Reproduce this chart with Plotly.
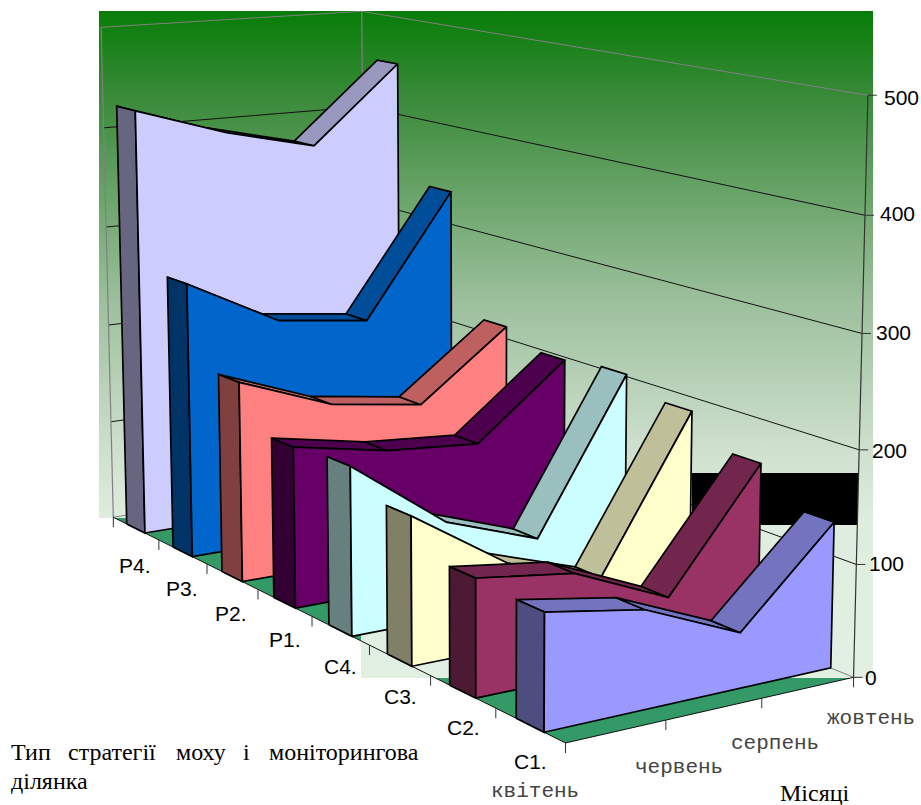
import numpy as np
import plotly.graph_objects as go

# Moss strategy types and monitoring plots, front of the chart to the back
series_names = ["C1.", "C2.", "C3.", "C4.", "P1.", "P2.", "P3.", "P4."]
months = ["квітень", "червень", "серпень", "жовтень"]
value_ticks = [0, 100, 200, 300, 400, 500]

c1 = [101, 86, 49, 130]
c2 = [104, 92, 54, 160]
c3 = [134, 76, 47, 187]
c4 = [156, 90, 59, 202]
p1 = [152, 135, 128, 197]
p2 = [193, 159, 146, 212]
p3 = [270, 223, 212, 333]
p4 = [425, 396, 375, 452]
all_series = [c1, c2, c3, c4, p1, p2, p3, p4]

# face, top strip, end cap
palette = [
    ("#9999FF", "#7373BF", "#4D4D80"),
    ("#993366", "#73264D", "#4D1A33"),
    ("#FFFFCC", "#BFBF99", "#808066"),
    ("#CCFFFF", "#99BFBF", "#668080"),
    ("#660066", "#4D004D", "#330033"),
    ("#FF8080", "#BF6060", "#804040"),
    ("#0066CC", "#004D99", "#003366"),
    ("#CCCCFF", "#9999BF", "#666680"),
]
FLOOR = "#339966"
GREY = "#808080"
INK = "#000000"

# Camera calibration: chart-box coordinates (month, series, value) against canvas pixels
calibration = [
    (0, 0, 0, 566, 742), (1, 0, 0, 665, 723), (2, 0, 0, 761, 702), (3, 0, 0, 853, 677),
    (0, 8, 0, 113, 517), (0, 7, 0, 158, 539), (0, 6, 0, 207, 564), (0, 5, 0, 258, 589),
    (0, 4, 0, 313, 616), (0, 3, 0, 370, 645), (0, 2, 0, 432, 675), (0, 1, 0, 496, 707),
    (0, 8, 500, 100, 27), (3, 8, 500, 362, 11), (3, 0, 500, 868, 97),
    (0, 8, 400, 104, 129), (0, 8, 300, 106, 227), (0, 8, 200, 108, 326),
    (3, 0, 400, 865, 213), (3, 0, 300, 862, 332), (3, 0, 200, 859, 450), (3, 0, 100, 856, 563),
    (3, 8, 400, 363, 107), (3, 8, 300, 364, 201),
]


def fit_camera(points):
    rows = []
    for x, y, z, u, v in points:
        p = [x / 3, y / 8, z / 500, 1]
        u, v = u / 1000, v / 1000
        rows.append(p + [0, 0, 0, 0] + [-u * c for c in p])
        rows.append([0, 0, 0, 0] + p + [-v * c for c in p])
    return np.linalg.svd(np.array(rows))[2][-1].reshape(3, 4)


CAMERA = fit_camera(calibration)


def project(month, band, value):
    """Perspective projection of a chart-box point to canvas pixels."""
    h = CAMERA @ np.array([month / 3, band / 8, value / 500, 1])
    return 1000 * h[0] / h[2], 1000 * h[1] / h[2]


fig = go.Figure()


def polygon(points, fill=None, line=INK, width=1.7, **extra):
    xs = [p[0] for p in points]
    ys = [p[1] for p in points]
    kw = dict(mode="lines", hoverinfo="skip", showlegend=False,
              line=dict(color=line or "rgba(0,0,0,0)", width=width if line else 0))
    if fill or extra:
        kw["fill"] = "toself"
    if fill:
        kw["fillcolor"] = fill
    kw.update(extra)
    fig.add_trace(go.Scatter(x=xs + xs[:1], y=ys + ys[:1], **kw))


def segment(a, b, color=INK, width=1.0):
    fig.add_trace(go.Scatter(x=[a[0], b[0]], y=[a[1], b[1]], mode="lines", hoverinfo="skip",
                             showlegend=False, line=dict(color=color, width=width)))


# Floor
polygon([project(0, 0, 0), project(3, 0, 0), project(3, 8, 0), project(0, 8, 0)], fill=FLOOR, line=None)

# Wall backdrop with the vertical green fade, dark at the top
polygon([(99, 11), (873, 11), (873, 678), (361, 678), (361, 518), (99, 518)], line=None,
        fillgradient=dict(type="vertical",
                          colorscale=[[0, "#E1F0E1"], [0.24, "#DEEDDE"], [0.34, "#CFE0CF"],
                                      [0.57, "#9BBF9B"], [0.87, "#3A8A3A"], [1, "#077D07"]]))
polygon([(692, 473), (858, 473), (858, 525), (692, 525)], fill="#000000", line=None)

# Wall gridlines and box edges
for v in value_ticks:
    color = GREY if v in (0, 500) else "#111111"
    segment(project(0, 8, v), project(3, 8, v), color, 1.0)
    segment(project(3, 8, v), project(3, 0, v), color, 1.0)
segment(project(0, 8, 0), project(0, 8, 500), GREY, 1.2)
segment(project(3, 8, 0), project(3, 8, 500), GREY, 1.2)
segment(project(3, 0, 0), project(3, 0, 500), "#333333", 1.2)

# Floor edges and tick marks
segment(project(0, 0, 0), project(3, 0, 0), "#111111", 1.0)
segment(project(0, 0, 0), project(0, 8, 0), "#111111", 1.0)
for b in range(9):
    x, y = project(0, b, 0)
    segment((x, y), (x, y + 10), "#333333", 1.0)
for m in range(4):
    x, y = project(m, 0, 0)
    segment((x, y), (x, y + 10), "#333333", 1.0)
for v in value_ticks:
    x, y = project(3, 0, v)
    segment((x, y), (x + 9, y), "#333333", 1.0)

# Ribbons, back to front
for band in range(len(all_series) - 1, -1, -1):
    vals = all_series[band]
    face, strip, cap = palette[band]
    front, back = band + 0.3, band + 0.7
    for m in range(len(vals) - 1):
        polygon([project(m, front, vals[m]), project(m + 1, front, vals[m + 1]),
                 project(m + 1, back, vals[m + 1]), project(m, back, vals[m])], fill=strip)
    polygon([project(0, back, 0), project(0, front, 0),
             project(0, front, vals[0]), project(0, back, vals[0])], fill=cap)
    outline = [project(m, front, vals[m]) for m in range(len(vals))]
    polygon([project(0, front, 0)] + outline + [project(3, front, 0)], fill=face)

SANS = "Liberation Sans"
SERIF = "Liberation Serif"
MONO = "Liberation Mono"


def label(x, y, text, family, size, color="#000000", anchor="center"):
    fig.add_annotation(x=x, y=y, xref="x", yref="y", text=text, showarrow=False,
                       xanchor=anchor, yanchor="middle",
                       font=dict(family=family, size=size, color=color))


series_label_xy = [(530, 761), (463, 727), (400, 696), (340, 666), (285, 639), (231, 613), (182, 588), (135, 565)]
for name, (x, y) in zip(series_names, series_label_xy):
    label(x, y, name, SANS, 21)

month_label_xy = [(535, 791), (679, 767), (775, 743), (871, 718)]
for name, (x, y) in zip(months, month_label_xy):
    label(x, y, name, MONO, 21, "#444444")

value_label_xy = [(863, 677), (867, 563), (870, 450), (874, 332), (878, 213), (882, 97)]
for v, (x, y) in zip(value_ticks, value_label_xy):
    label(x, y, str(v), SANS, 21, anchor="left")

# Justified first line of the series-axis title: each word keeps its own position
title_words = ["Тип", "стратегії", "моху", "і", "моніторингова"]
title_word_x = [9, 66, 174, 241, 267]
for word, x in zip(title_words, title_word_x):
    label(x, 752, word, SERIF, 24, anchor="left")
label(9, 781, "ділянка", SERIF, 24, anchor="left")
label(815, 793, "Місяці", SERIF, 24)

fig.update_layout(
    width=921, height=805, margin=dict(l=0, r=0, t=0, b=0),
    paper_bgcolor="white", plot_bgcolor="white", showlegend=False,
    xaxis=dict(range=[0, 921], visible=False, fixedrange=True),
    yaxis=dict(range=[805, 0], visible=False, fixedrange=True),
)

fig.write_html("out.html")
